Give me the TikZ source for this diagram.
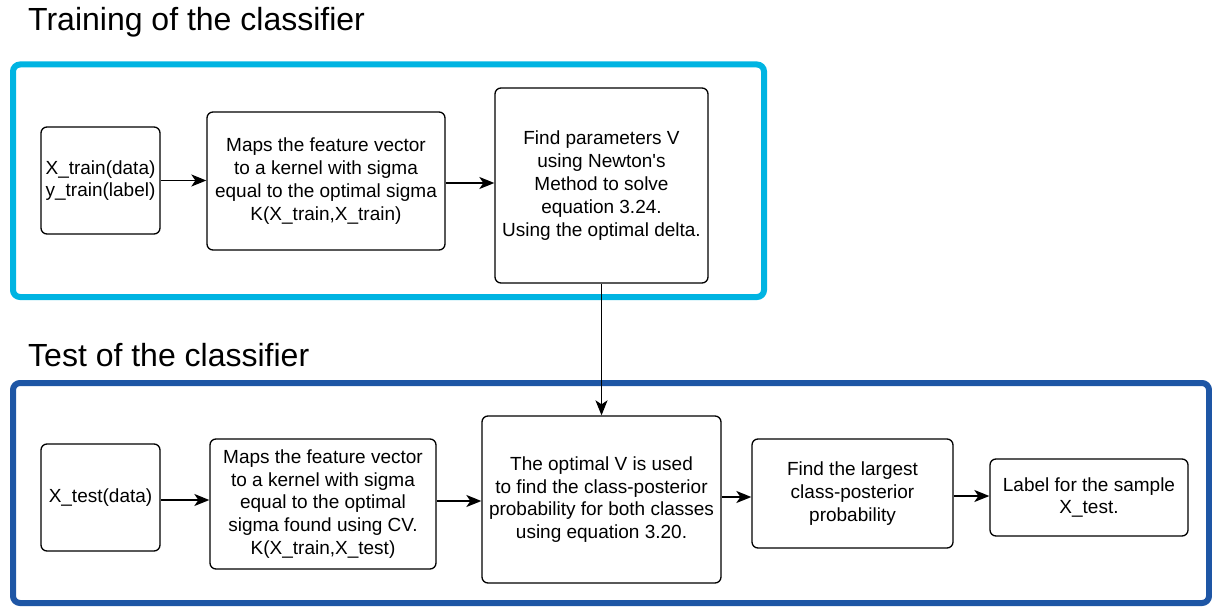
\documentclass[tikz,border=0pt]{standalone}
\usepackage{fontspec}
\setmainfont{Liberation Sans}[Ligatures=TeXOff]
\usetikzlibrary{arrows.meta,calc}
\definecolor{trainblue}{RGB}{0,180,226}
\definecolor{testblue}{RGB}{30,86,165}
\begin{document}
\begin{tikzpicture}[x=1pt,y=-1pt,
  stepbox/.style={draw=black,line width=1.3pt,rounded corners=6pt,fill=white,
    align=center,inner sep=0pt,font=\fontsize{19}{22.8}\selectfont},
  flow/.style={line width=1.5pt,-{Stealth[length=15pt,width=12pt,inset=4pt]}},
  frame/.style={line width=6pt,rounded corners=7pt},
  heading/.style={anchor=base west,inner sep=0pt,font=\fontsize{32}{38}\selectfont}]
\useasboundingbox (0,0) rectangle (1212,607);
\clip (0,0) rectangle (1212,607);

% section frames and headings
\draw[frame,draw=trainblue] (13,64.5) rectangle (764,297);
\draw[frame,draw=testblue] (13,383) rectangle (1209,603);
\node[heading] (htrain) at (28,31) {Training of the classifier};
\node[heading] (htest) at (28,366) {Test of the classifier};

% training stage
\node[stepbox,minimum width=119pt,minimum height=107pt] (xtrain) at (100.5,180.5)
  {X\_train(data)\\y\_train(label)};
\node[stepbox,minimum width=238pt,minimum height=138pt] (kertrain) at (326,181)
  {Maps the feature vector\\ to a kernel with sigma\\equal to the optimal sigma\\ K(X\_train,X\_train)};
\node[stepbox,minimum width=213pt,minimum height=195pt] (newton) at (601.5,185.5)
  {Find parameters V\\using Newton's\\Method to solve\\ equation 3.24.\\Using the optimal delta.};

% test stage
\node[stepbox,minimum width=119pt,minimum height=107pt] (xtest) at (100.5,497.5)
  {X\_test(data)};
\node[stepbox,minimum width=226pt,minimum height=130pt] (kertest) at (323,504)
  {Maps the feature vector\\ to a kernel with sigma\\equal to the optimal\\ sigma found using CV.\\K(X\_train,X\_test)};
\node[stepbox,minimum width=239pt,minimum height=167pt] (posterior) at (601.5,499.5)
  {The optimal V is used\\to find the class-posterior\\probability for both classes\\using equation 3.20.};
\node[stepbox,minimum width=201pt,minimum height=109pt] (largest) at (852.5,493.5)
  {Find the largest\\class-posterior\\probability};
\node[stepbox,minimum width=198pt,minimum height=77pt] (label) at (1089,497.5)
  {Label for the sample\\X\_test.};

% connectors, kept horizontal
\draw[flow] (xtrain.east) -- (xtrain.east -| kertrain.west);
\draw[flow] ($(kertrain.east)+(0,2)$) -- ($(newton.west |- kertrain.east)+(0,2)$);
\draw[flow] (newton.south) -- (posterior.north);
\draw[flow] ($(xtest.east)+(0,2.5)$) -- ($(kertest.west |- xtest.east)+(0,2.5)$);
\draw[flow] ($(kertest.east)+(0,-3)$) -- ($(posterior.west |- kertest.east)+(0,-3)$);
\draw[flow] ($(posterior.east)+(0,-2.5)$) -- ($(largest.west |- posterior.east)+(0,-2.5)$);
\draw[flow] ($(largest.east)+(0,2.5)$) -- ($(label.west |- largest.east)+(0,2.5)$);
\end{tikzpicture}
\end{document}
